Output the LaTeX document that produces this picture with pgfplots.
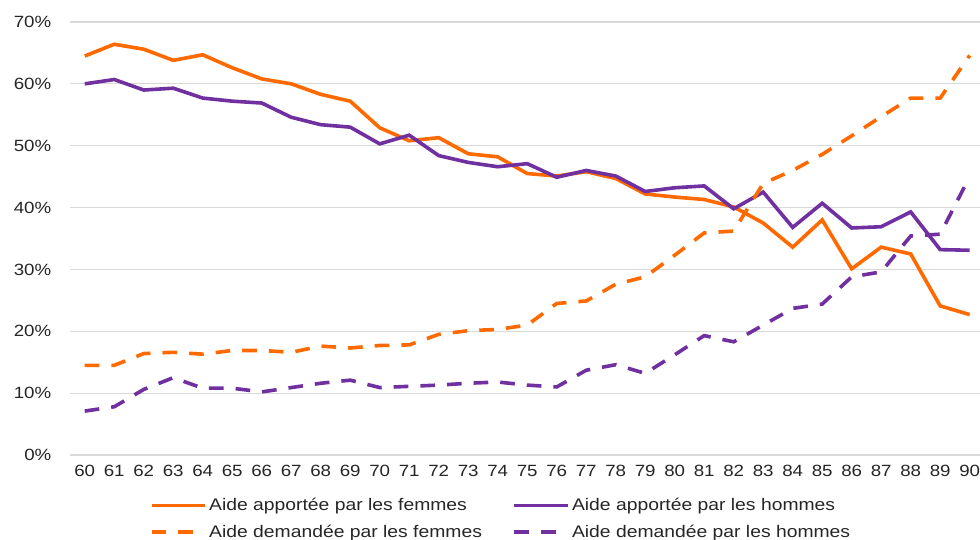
\documentclass[border=0pt]{standalone}
\usepackage{pgfplots}
\pgfplotsset{compat=1.18}
\usepackage{fontspec}
\setmainfont{Liberation Sans}[FakeStretch=1.15]
\definecolor{orng}{HTML}{FF6A00}
\definecolor{purp}{HTML}{7030A0}
\definecolor{gridc}{HTML}{D9D9D9}
\begin{document}
\begin{tikzpicture}[x=1pt,y=1pt]
\useasboundingbox (0,0) rectangle (735,404.25);
\begin{axis}[
  at={(52.5pt,63pt)}, anchor=south west,
  scale only axis, width=682.5pt, height=324.75pt,
  xmin=59.5, xmax=90.35, ymin=0, ymax=70,
  clip=true,
  axis line style={draw=none},
  tick style={draw=none},
  ytick={0,10,...,70},
  yticklabel={\pgfmathprintnumber{\tick}\%},
  xtick={60,...,90},
  ymajorgrids,
  grid style={color=gridc, line width=0.9pt},
  tick label style={font=\fontsize{12.2}{14}\selectfont, text=black!85},
  /pgf/number format/assume math mode=true,
  yticklabel style={xshift=-10.5pt},
  xticklabel style={yshift=-4pt},
  legend columns=2,
  legend cell align=left,
  legend style={at={(0.474,-0.087)}, anchor=north, draw=none,
    font=\fontsize{12.6}{15}\selectfont, text=black!85,
    /tikz/every even column/.append style={column sep=21pt},
    row sep=5pt},
  legend image code/.code={\draw[#1] (0cm,0cm) -- (1.4cm,0cm);},
  every axis plot/.append style={line width=2.7pt},
  dashstyle/.style={dash pattern=on 11pt off 9pt},
]
\addplot[orng] coordinates {
(60,64.5)(61,66.4)(62,65.6)(63,63.8)(64,64.7)(65,62.6)(66,60.8)(67,60.0)(68,58.3)(69,57.2)
(70,52.9)(71,50.8)(72,51.3)(73,48.7)(74,48.2)(75,45.5)(76,45.1)(77,45.8)(78,44.7)(79,42.2)
(80,41.7)(81,41.3)(82,40.1)(83,37.5)(84,33.6)(85,38.0)(86,30.1)(87,33.6)(88,32.5)(89,24.1)(90,22.7)};
\addlegendentry{Aide apportée par les femmes}
\addplot[purp] coordinates {
(60,60.0)(61,60.7)(62,59.0)(63,59.3)(64,57.7)(65,57.2)(66,56.9)(67,54.6)(68,53.4)(69,53.0)
(70,50.3)(71,51.7)(72,48.4)(73,47.3)(74,46.6)(75,47.1)(76,44.9)(77,46.0)(78,45.1)(79,42.6)
(80,43.2)(81,43.5)(82,39.8)(83,42.5)(84,36.8)(85,40.7)(86,36.7)(87,36.9)(88,39.3)(89,33.2)(90,33.1)};
\addlegendentry{Aide apportée par les hommes}
\addplot[orng, dashstyle] coordinates {
(60,14.5)(61,14.5)(62,16.4)(63,16.6)(64,16.3)(65,16.9)(66,16.9)(67,16.6)(68,17.6)(69,17.3)
(70,17.7)(71,17.8)(72,19.5)(73,20.1)(74,20.3)(75,21.0)(76,24.5)(77,24.9)(78,27.6)(79,28.8)
(80,32.3)(81,35.9)(82,36.2)(83,43.9)(84,46.0)(85,48.6)(86,51.6)(87,54.7)(88,57.7)(89,57.7)(90,64.6)};
\addlegendentry{Aide demandée par les femmes}
\addplot[purp, dashstyle] coordinates {
(60,7.1)(61,7.8)(62,10.6)(63,12.5)(64,10.8)(65,10.8)(66,10.2)(67,10.9)(68,11.6)(69,12.1)
(70,10.9)(71,11.1)(72,11.3)(73,11.6)(74,11.8)(75,11.3)(76,11.0)(77,13.7)(78,14.6)(79,13.2)
(80,16.2)(81,19.3)(82,18.3)(83,21.0)(84,23.7)(85,24.4)(86,28.8)(87,29.6)(88,35.4)(89,35.7)(90,45.0)};
\addlegendentry{Aide demandée par les hommes}
\end{axis}
\end{tikzpicture}
\end{document}
